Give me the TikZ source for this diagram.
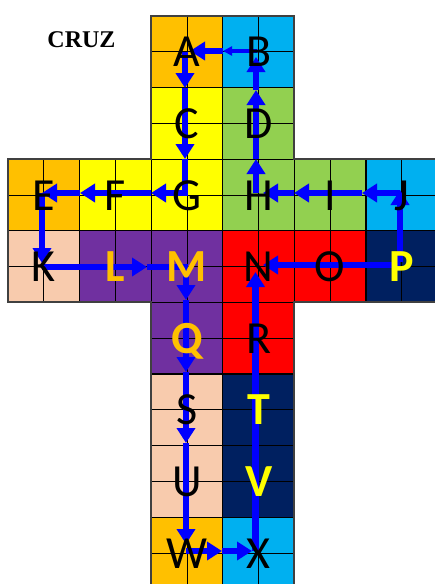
\documentclass[tikz,border=0pt]{standalone}
\usepackage{fontspec}
\setmainfont{Carlito}
\newfontfamily\crzfont{Liberation Serif}
\usetikzlibrary{arrows.meta}
\definecolor{corange}{HTML}{FFC000}
\definecolor{ccyan}{HTML}{00B0F0}
\definecolor{cyellow}{HTML}{FFFF00}
\definecolor{cgreen}{HTML}{92D050}
\definecolor{cpeach}{HTML}{F8CBAD}
\definecolor{cpurple}{HTML}{7030A0}
\definecolor{cred}{HTML}{FF0000}
\definecolor{cnavy}{HTML}{002060}
\definecolor{arrowblue}{HTML}{0000FF}
\newcommand\blk[3]{%
  \fill[#3] ({8+71.6*#1},{16+71.6*#2}) rectangle ++(71.6,71.6);
  \draw[cellline] ({8+71.6*#1+35.8},{16+71.6*#2}) -- ++(0,71.6)
                  ({8+71.6*#1},{16+71.6*#2+35.8}) -- ++(71.6,0);
  \draw[blockline] ({8+71.6*#1},{16+71.6*#2}) rectangle ++(71.6,71.6);
}
\newcommand\lett[5]{\node[#4] (#1) at ({43.8+71.6*#2},{51.8+71.6*#3}) {#5};}
\begin{document}
\begin{tikzpicture}[x=1pt,y=-1pt,
  cellline/.style={draw=black, line width=0.9pt},
  blockline/.style={draw=black, line width=1.3pt},
  outline/.style={draw=black!75, line width=2pt},
  arr/.style={draw=arrowblue, line width=6.5pt, -{Triangle[length=15pt,width=18pt]}},
  arrline/.style={draw=arrowblue, line width=6.5pt},
  thinarr/.style={draw=arrowblue, line width=3.5pt, -{Triangle[length=9pt,width=9pt]}},
  lt/.style={font=\fontsize{46}{46}\selectfont, text height=30pt, text depth=0pt, inner sep=0pt, text=black},
  ltO/.style={lt, font=\fontsize{46}{46}\selectfont\bfseries, text=corange},
  ltY/.style={lt, font=\fontsize{46}{46}\selectfont\bfseries, text=cyellow},
  title/.style={font=\crzfont\bfseries\fontsize{24}{24}\selectfont, inner sep=0pt, anchor=base}]
\useasboundingbox (0,0) rectangle (435,584);
% blocks
\blk{2}{0}{corange}\blk{3}{0}{ccyan}
\blk{2}{1}{cyellow}\blk{3}{1}{cgreen}
\blk{0}{2}{corange}\blk{1}{2}{cyellow}\blk{2}{2}{cyellow}\blk{3}{2}{cgreen}\blk{4}{2}{cgreen}\blk{5}{2}{ccyan}
\blk{0}{3}{cpeach}\blk{1}{3}{cpurple}\blk{2}{3}{cpurple}\blk{3}{3}{cred}\blk{4}{3}{cred}\blk{5}{3}{cnavy}
\blk{2}{4}{cpurple}\blk{3}{4}{cred}
\blk{2}{5}{cpeach}\blk{3}{5}{cnavy}
\blk{2}{6}{cpeach}\blk{3}{6}{cnavy}
\blk{2}{7}{corange}\blk{3}{7}{ccyan}
\draw[outline] (151.2,16) -- (294.4,16) -- (294.4,159.2) -- (437.6,159.2) -- (437.6,302.4)
  -- (294.4,302.4) -- (294.4,588.8) -- (151.2,588.8) -- (151.2,302.4) -- (8,302.4)
  -- (8,159.2) -- (151.2,159.2) -- cycle;
% title
\node[title] (cruz) at (81.5,47.3) {CRUZ};
% waypoints
\coordinate (pB1) at (257,51);   \coordinate (pAB) at (223,51);  \coordinate (pA1) at (190,51);
\coordinate (pA2) at (185,52);   \coordinate (pAC) at (185,88);  \coordinate (pCG) at (185,159); \coordinate (pG1) at (185,196);
\coordinate (pG2) at (187,193);  \coordinate (pFG) at (151,193); \coordinate (pEF) at (80,193);  \coordinate (pE1) at (42,193);
\coordinate (pE2) at (42,193);   \coordinate (pK1) at (42,263);
\coordinate (pK2) at (42,267);   \coordinate (pLM) at (147,267); \coordinate (pM1) at (188,267);
\coordinate (pM2) at (186,267);  \coordinate (pMQ) at (186,300); \coordinate (pQS) at (186,372); \coordinate (pSU) at (186,443); \coordinate (pW1) at (186,544);
\coordinate (pW2) at (186,551);  \coordinate (pWX) at (222,551); \coordinate (pX1) at (252,551);
\coordinate (pX2) at (255.5,551); \coordinate (pN1) at (255.5,272);
\coordinate (pP1) at (400,265);  \coordinate (pN2) at (263,265);
\coordinate (pP2) at (400,262);  \coordinate (pJ1) at (400,190);
\coordinate (pJ2) at (400,193);  \coordinate (pIJ) at (362,193); \coordinate (pHI) at (294,193); \coordinate (pH1) at (263,193);
\coordinate (pH2) at (256,193);  \coordinate (pDH) at (256,159); \coordinate (pBD) at (256,90);  \coordinate (pB2) at (256,57);
% arrows
\draw[thinarr] (pB1) -- (pAB);
\draw[arr] (pAB) -- (pA1);
\draw[arr] (pA2) -- (pAC);
\draw[arr] (pAC) -- (pCG);
\draw[arrline] (pCG) -- (pG1);
\draw[arr] (pG2) -- (pFG);
\draw[arr] (pFG) -- (pEF);
\draw[arr] (pEF) -- (pE1);
\draw[arr] (pE2) -- (pK1);
\draw[arr] (pK2) -- (pLM);
\draw[arrline] (pLM) -- (pM1);
\draw[arr] (pM2) -- (pMQ);
\draw[arr] (pMQ) -- (pQS);
\draw[arr] (pQS) -- (pSU);
\draw[arr] (pSU) -- (pW1);
\draw[arr] (pW2) -- (pWX);
\draw[arr] (pWX) -- (pX1);
\draw[arr] (pX2) -- (pN1);
\draw[arr] (pP1) -- (pN2);
\draw[arr] (pP2) -- (pJ1);
\draw[arr] (pJ2) -- (pIJ);
\draw[arr] (pIJ) -- (pHI);
\draw[arr] (pHI) -- (pH1);
\draw[arr] (pH2) -- (pDH);
\draw[arr] (pDH) -- (pBD);
\draw[arr] (pBD) -- (pB2);
% letters
\lett{A}{2}{0}{lt}{A}\lett{B}{3}{0}{lt}{B}
\lett{C}{2}{1}{lt}{C}\lett{D}{3}{1}{lt}{D}
\lett{E}{0}{2}{lt}{E}\lett{F}{1}{2}{lt}{F}\lett{G}{2}{2}{lt}{G}\lett{H}{3}{2}{lt}{H}\lett{I}{4}{2}{lt}{I}\lett{J}{5}{2}{lt}{J}
\lett{K}{0}{3}{lt}{K}\lett{L}{1}{3}{ltO}{L}\lett{M}{2}{3}{ltO}{M}\lett{N}{3}{3}{lt}{N}\lett{O}{4}{3}{lt}{O}\lett{P}{5}{3}{ltY}{P}
\lett{Q}{2}{4}{ltO}{Q}\lett{R}{3}{4}{lt}{R}
\lett{S}{2}{5}{lt}{S}\lett{T}{3}{5}{ltY}{T}
\lett{U}{2}{6}{lt}{U}\lett{V}{3}{6}{ltY}{V}
\lett{W}{2}{7}{lt}{W}\lett{X}{3}{7}{lt}{X}
\end{tikzpicture}
\end{document}
